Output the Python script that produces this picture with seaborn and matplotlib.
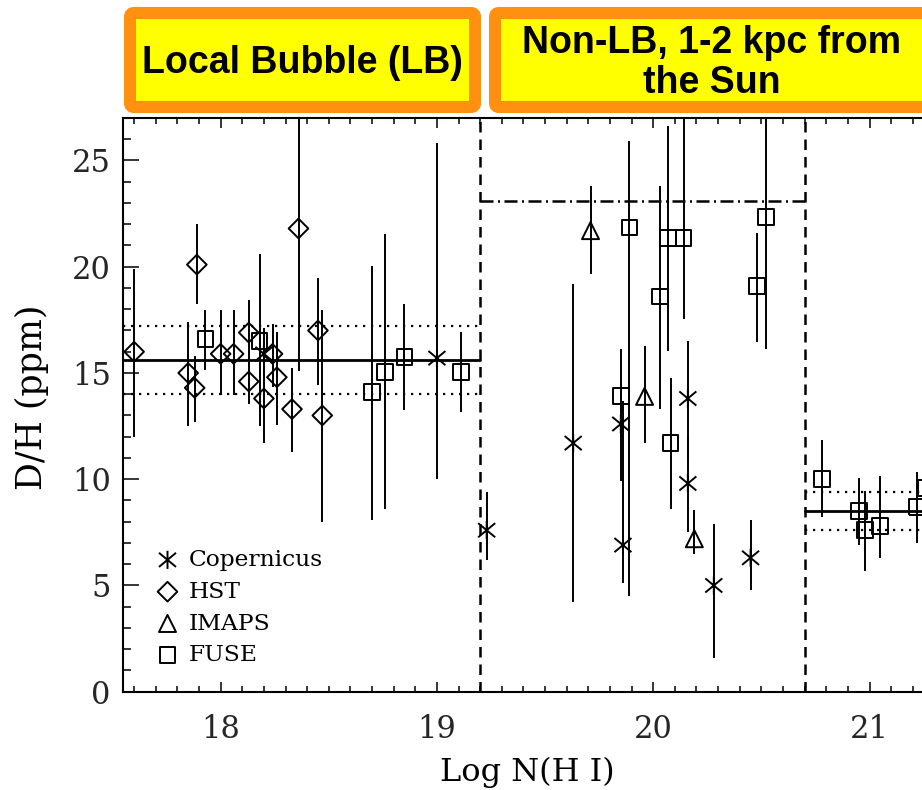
import matplotlib
matplotlib.use("Agg")
import matplotlib.pyplot as plt
from matplotlib.path import Path
from matplotlib.patches import FancyBboxPatch
from matplotlib.ticker import MultipleLocator
import numpy as np
import seaborn as sns

# ---- D/H measurements: log N(H I), D/H (ppm), error-bar lower / upper bounds ----
cop_logn = [18.20, 19.00, 19.23, 19.63, 19.85, 19.86, 20.16, 20.16, 20.28, 20.45]
cop_dh = [15.9, 15.7, 7.6, 11.7, 12.6, 6.9, 13.8, 9.8, 5.0, 6.3]
cop_lo = [14.7, 10.0, 6.2, 4.2, 9.9, 5.1, 11.0, 7.5, 1.6, 4.8]
cop_hi = [17.1, 25.8, 9.4, 19.2, 14.5, 13.7, 16.5, 12.0, 7.9, 8.1]

hst_logn = [17.60, 17.85, 17.88, 17.89, 18.00, 18.06, 18.13, 18.13, 18.20, 18.24,
            18.26, 18.33, 18.36, 18.45, 18.47]
hst_dh = [16.0, 15.0, 14.3, 20.1, 15.9, 15.9, 16.9, 14.6, 13.8, 15.9,
          14.8, 13.3, 21.8, 17.0, 13.0]
hst_lo = [12.0, 12.5, 12.7, 18.25, 13.95, 13.95, 15.3, 13.55, 11.7, 14.35,
          12.55, 11.3, 15.1, 14.45, 8.0]
hst_hi = [19.9, 17.4, 15.8, 22.0, 17.95, 17.95, 18.45, 16.0, 15.8, 17.3,
          16.95, 15.25, 28.0, 19.45, 17.95]

imaps_logn = [19.71, 19.96, 20.19]
imaps_dh = [21.7, 13.9, 7.2]
imaps_lo = [19.65, 11.7, 6.5]
imaps_hi = [23.8, 16.25, 8.55]

fuse_logn = [17.93, 18.18, 18.70, 18.76, 18.85, 19.11, 19.85, 19.89, 20.03, 20.07,
             20.08, 20.14, 20.48, 20.52, 20.78, 20.95, 20.98, 21.05, 21.22, 21.26]
fuse_dh = [16.6, 16.5, 14.1, 15.05, 15.75, 15.05, 13.9, 21.85, 18.6, 21.35,
           11.7, 21.35, 19.1, 22.35, 10.0, 8.5, 7.6, 7.8, 8.7, 9.6]
fuse_lo = [15.15, 12.5, 8.1, 8.6, 13.25, 13.15, 12.0, 4.5, 13.3, 16.05,
           8.6, 17.55, 16.45, 16.15, 8.2, 6.9, 5.7, 6.3, 7.0, 8.2]
fuse_hi = [17.95, 20.6, 20.05, 21.55, 18.25, 16.95, 16.15, 25.9, 23.8, 26.6,
           14.75, 28.0, 21.6, 28.0, 11.85, 10.05, 9.45, 10.15, 10.35, 11.2]

# ---- regional averages and boundaries ----
region_edges = [19.2, 20.7]
lb_mean, lb_low, lb_high = 15.6, 14.0, 17.2
far_mean, far_low, far_high = 8.5, 7.6, 9.4
mid_max = 23.1

region_titles = ["Local Bubble (LB)", "Non-LB, 1-2 kpc from\nthe Sun"]
legend_names = ["Copernicus", "HST", "IMAPS", "FUSE"]

sns.set_theme(style="ticks")
plt.rcParams["font.family"] = ["DejaVu Serif", "DejaVu Sans"]

W, H = 922, 790
fig = plt.figure(figsize=(W / 100, H / 100), dpi=100)
fig.patch.set_facecolor("white")

# main axes in pixel geometry (extends past the right edge of the figure)
x_left, x_right = 17.55, 21.6
px_per_unit = 216.3
ax_l, ax_b, ax_t = 123.3, 691.7, 118.0
ax_w = (x_right - x_left) * px_per_unit
ax = fig.add_axes([ax_l / W, 1 - ax_b / H, ax_w / W, (ax_b - ax_t) / H])
ax.set_facecolor("white")
ax.set_xlim(x_left, x_right)
ax.set_ylim(0, 27)

# six-armed asterisk marker
ast = Path([(0, -1), (0, 1), (-0.94, -0.78), (0.94, 0.78), (-0.94, 0.78), (0.94, -0.78)],
           [Path.MOVETO, Path.LINETO, Path.MOVETO, Path.LINETO, Path.MOVETO, Path.LINETO])

groups = [
    (cop_logn, cop_dh, cop_lo, cop_hi, ast, 170, legend_names[0]),
    (hst_logn, hst_dh, hst_lo, hst_hi, "D", 100, legend_names[1]),
    (imaps_logn, imaps_dh, imaps_lo, imaps_hi, "^", 150, legend_names[2]),
    (fuse_logn, fuse_dh, fuse_lo, fuse_hi, "s", 130, legend_names[3]),
]

for xs, ys, lo, hi, mk, sz, name in groups:
    ys_a = np.asarray(ys)
    yerr = [ys_a - np.asarray(lo), np.asarray(hi) - ys_a]
    ax.errorbar(xs, ys, yerr=yerr, fmt="none", ecolor="black", elinewidth=1.4,
                capsize=0, zorder=2)
    sns.scatterplot(x=xs, y=ys, marker=mk, s=sz, color="black", facecolor="none",
                    edgecolor="black", linewidth=1.4, label=name, ax=ax, zorder=3,
                    legend=False)

# region boundaries
for xe in region_edges:
    ax.axvline(xe, color="black", lw=1.8, linestyle=(0, (4.2, 2.8)), zorder=1)

# averages
ax.plot([x_left, region_edges[0]], [lb_mean, lb_mean], color="black", lw=2.0, zorder=1)
ax.plot([x_left, region_edges[0]], [lb_low, lb_low], color="black", lw=1.6,
        linestyle=(0, (1, 2.6)), zorder=1)
ax.plot([x_left, region_edges[0]], [lb_high, lb_high], color="black", lw=1.6,
        linestyle=(0, (1, 2.6)), zorder=1)
ax.plot(region_edges, [mid_max, mid_max], color="black", lw=1.8,
        linestyle=(0, (5.2, 1.8, 0.8, 1.8)), zorder=1)
ax.plot([region_edges[1], x_right], [far_mean, far_mean], color="black", lw=2.0, zorder=1)
ax.plot([region_edges[1], x_right], [far_low, far_low], color="black", lw=1.6,
        linestyle=(0, (1, 2.6)), zorder=1)
ax.plot([region_edges[1], x_right], [far_high, far_high], color="black", lw=1.6,
        linestyle=(0, (1, 2.6)), zorder=1)

# ticks and frame
ax.xaxis.set_major_locator(MultipleLocator(1))
ax.xaxis.set_minor_locator(MultipleLocator(0.1))
ax.yaxis.set_major_locator(MultipleLocator(5))
ax.yaxis.set_minor_locator(MultipleLocator(1))
ax.tick_params(axis="x", which="both", direction="in", top=True, bottom=True,
               labelsize=22, pad=16, width=1.1, color="black")
ax.tick_params(axis="x", which="major", length=7.5)
ax.tick_params(axis="x", which="minor", length=4)
ax.tick_params(axis="y", which="both", direction="in", left=True, right=True,
               labelsize=22, pad=9, width=1.1, color="black")
ax.tick_params(axis="y", which="major", length=11.5)
ax.tick_params(axis="y", which="minor", length=6)
for sp in ax.spines.values():
    sp.set_linewidth(1.5)
    sp.set_color("black")
    sp.set_visible(True)

ax.set_xlabel("Log N(H I)", fontsize=23, color="black")
ax.set_ylabel("D/H (ppm)", fontsize=25, color="black")
ax.xaxis.label.set(va="center", ha="center")
ax.yaxis.label.set(va="center", ha="center", rotation_mode="anchor")
ax.xaxis.set_label_coords((527 - ax_l) / ax_w, -(772 - ax_b) / (ax_b - ax_t))
ax.yaxis.set_label_coords((32 - ax_l) / ax_w, (ax_b - 397) / (ax_b - ax_t))

# legend
handles, labels = ax.get_legend_handles_labels()
leg = ax.legend(handles, labels, loc="upper left",
                bbox_to_anchor=(157 / W, 1 - 549 / H), bbox_transform=fig.transFigure,
                frameon=False, fontsize=16.8, borderpad=0, borderaxespad=0,
                handlelength=0.9, handletextpad=0.45, labelspacing=0.42,
                scatterpoints=1)
for t in leg.get_texts():
    t.set_color("black")

# region title boxes
over = fig.add_axes([0, 0, 1, 1], zorder=5)
over.set_xlim(0, W)
over.set_ylim(H, 0)
over.axis("off")
over.patch.set_visible(False)
orange = "#FF9010"
border = 12
for (x0, x1), title, tx, ty in [((124, 481), region_titles[0], 302, 63),
                                ((489, 960), region_titles[1], 712, 63)]:
    box = FancyBboxPatch((x0 + border / 2, 7 + border / 2), x1 - x0 - border,
                         106 - border, boxstyle="round,pad=0,rounding_size=4",
                         facecolor="#FFFF00", edgecolor=orange,
                         linewidth=border * 0.72, clip_on=False)
    over.add_patch(box)
    over.text(tx, ty, title, ha="center", va="center", fontsize=27,
              fontweight="bold", family=["Liberation Sans", "DejaVu Sans"],
              linespacing=1.12, color="black")

fig.savefig("out.png", dpi=100, facecolor="white")
